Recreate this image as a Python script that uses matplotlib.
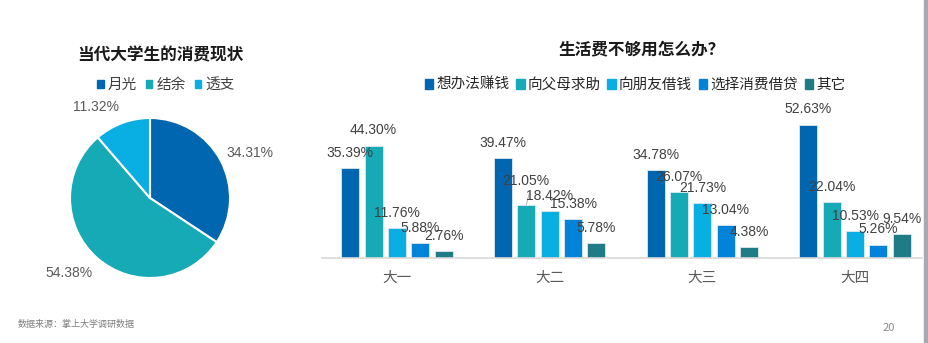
import matplotlib
matplotlib.use("Agg")
import matplotlib.pyplot as plt
import numpy as np
from matplotlib.patches import Rectangle, Patch

plt.rcParams['font.family'] = ['Noto Sans CJK SC', 'DejaVu Sans']

# pie data
pie_labels = ['月光', '结余', '透支']
pie_values = [34.31, 54.38, 11.32]
pie_colors = ['#0066B0', '#16A9B6', '#09AEE2']

# bar data
grades = ['大一', '大二', '大三', '大四']
options = ['想办法赚钱', '向父母求助', '向朋友借钱', '选择消费借贷', '其它']
earn = [35.39, 39.47, 34.78, 52.63]
parents = [44.30, 21.05, 26.07, 22.04]
friends = [11.76, 18.42, 21.73, 10.53]
loans = [5.88, 15.38, 13.04, 5.26]
other = [2.76, 5.78, 4.38, 9.54]
series = [earn, parents, friends, loans, other]
bar_colors = ['#0066B0', '#16A9B6', '#09AEE2', '#0083D9', '#1F7C86']

W, H = 929, 343
fig = plt.figure(figsize=(W / 100, H / 100), dpi=100)

def fx(px):
    return px / W

def fy(py):
    return 1 - py / H

num_font = ['Liberation Sans', 'DejaVu Sans']

# ---- pie ----
r = 80
cx, cy = 150, 198
ax1 = fig.add_axes([fx(cx - r), fy(cy + r), 2 * r / W, 2 * r / H])
wedges, texts = ax1.pie(pie_values, colors=pie_colors, startangle=90, counterclock=False,
                        radius=1, labels=[f'{v:.2f}%' for v in pie_values],
                        labeldistance=1.3,
                        wedgeprops=dict(edgecolor='white', linewidth=1.5),
                        textprops=dict(color='#595959', fontsize=10, family=num_font))
# nudge labels like the original
label_pos = [(1.25, 0.56), (-1.01, -0.94), (-0.675, 1.14)]
for t, p in zip(texts, label_pos):
    t.set_position(p)
    t.set_ha('center')
    t.set_va('center')
ax1.set_xlim(-1, 1)
ax1.set_ylim(-1, 1)
ax1.set_aspect('auto')

fig.text(fx(160), fy(55), '当代大学生的消费现状', ha='center', va='center',
         fontsize=12, fontweight='bold', color='#1a1a1a')
fig.legend([Patch(color=c) for c in pie_colors], pie_labels, loc='center',
           bbox_to_anchor=(fx(166), fy(85)), ncol=3, frameon=False,
           fontsize=10.5, handlelength=0.45, handleheight=0.45,
           handletextpad=0.3, columnspacing=0.6, labelcolor='#404040')

# ---- bars ----
ax2 = fig.add_axes([fx(322), fy(258), 600 / W, (258 - 106) / H])
x = np.arange(len(grades))
step = 0.153
width = 0.118
for i, (vals, col) in enumerate(zip(series, bar_colors)):
    pos = x + (i - 2) * step
    ax2.bar(pos, vals, width=width, color=col, edgecolor='#dde8f0', linewidth=0.6)
    for j, v in enumerate(vals):
        off = 11
        if i == 1 and j == 1:
            off = 17
            ax2.plot([pos[j], pos[j] + 0.02], [v, v + 4.5], color='#a6a6a6', lw=0.6)
        ax2.annotate(f'{v:.2f}%', (pos[j], v), xytext=(0, off),
                     textcoords='offset points', ha='center', va='center',
                     fontsize=10, color='#404040', family=num_font)

ax2.set_xlim((322 - 397) / 152.67, (922 - 397) / 152.67)
ax2.set_ylim(0, 60)
ax2.set_xticks(x)
ax2.set_xticklabels(grades, fontsize=10.5, color='#595959')
ax2.tick_params(axis='x', length=0, pad=9)
ax2.set_yticks([])
for s in ['top', 'right', 'left']:
    ax2.spines[s].set_visible(False)
ax2.spines['bottom'].set_color('#d9d9d9')
ax2.spines['bottom'].set_linewidth(1.2)

fig.text(fx(642), fy(50), '生活费不够用怎么办？', ha='center', va='center',
         fontsize=12, fontweight='bold', color='#1a1a1a')
fig.legend([Patch(color=c) for c in bar_colors], options, loc='center',
           bbox_to_anchor=(fx(635), fy(85)), ncol=5, frameon=False,
           fontsize=10.5, handlelength=0.6, handleheight=0.6,
           handletextpad=0.2, columnspacing=0.45, labelcolor='#262626')

# footer
fig.text(fx(18), fy(324), '数据来源：掌上大学调研数据', ha='left', va='center',
         fontsize=6.5, color='#7f7f7f')
fig.text(fx(889), fy(328), '20', ha='center', va='center',
         fontsize=8, color='#8c8c8c')
fig.patches.append(Rectangle((fx(924), 0), fx(5), 1, transform=fig.transFigure,
                             color='#a9a9b2', zorder=0))

fig.savefig('out.png', dpi=100)
